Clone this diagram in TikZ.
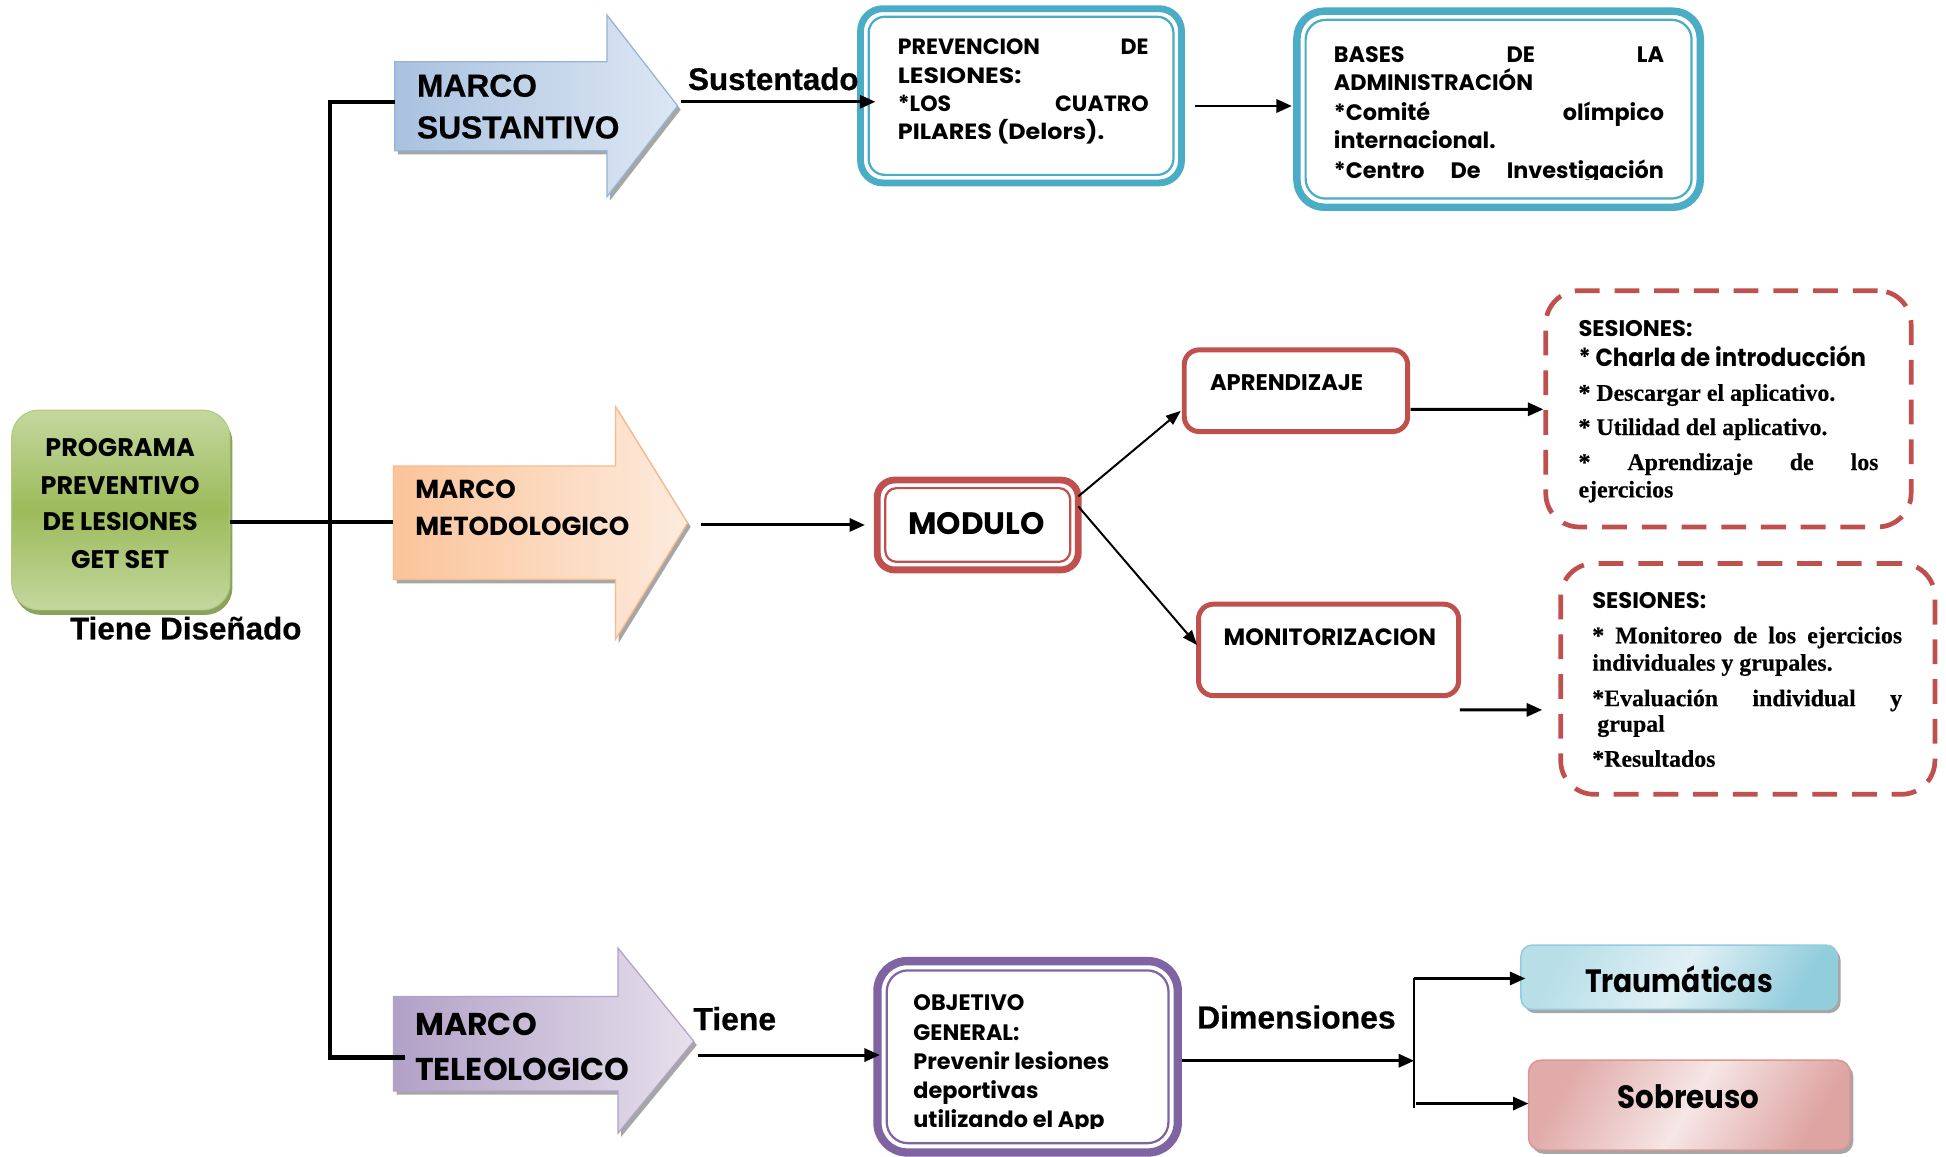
\documentclass[tikz,border=0pt]{standalone}
\usepackage{fontspec}
\usetikzlibrary{arrows.meta,calc,shadows}
\newfontfamily\cgfont{Poppins}
\newfontfamily\arfont{Liberation Sans}[BoldFeatures={FakeBold=0.6}]
\newfontfamily\tnfont{Liberation Serif}[BoldFeatures={FakeBold=0.4}]
\newcommand\fCG[1]{\cgfont\bfseries\fontsize{#1pt}{#1pt}\selectfont}
\newcommand\fAR[1]{\arfont\bfseries\fontsize{#1pt}{#1pt}\selectfont}
\newcommand\fTN[1]{\tnfont\bfseries\fontsize{#1pt}{#1pt}\selectfont}
\newcommand\jline[2]{\makebox[#1pt][l]{#2}}
\newcommand\hsc[2]{\scalebox{#1}[1]{#2}}
\definecolor{cAqua}{HTML}{4BACC6}
\definecolor{cRed}{HTML}{C0504D}
\definecolor{cPurple}{HTML}{8064A2}
\definecolor{cBlueA}{HTML}{A9C2E0}
\definecolor{cBlueB}{HTML}{DDE7F3}
\definecolor{cBlueE}{HTML}{95B3D7}
\definecolor{cOrA}{HTML}{FBC49A}
\definecolor{cOrB}{HTML}{FDEBDD}
\definecolor{cOrE}{HTML}{F9BA8C}
\definecolor{cPuA}{HTML}{B2A1C7}
\definecolor{cPuB}{HTML}{E6E0EC}
\definecolor{cPuE}{HTML}{B3A2C7}
\definecolor{cGrA}{HTML}{C4D79E}
\definecolor{cGrB}{HTML}{9CBB5B}
\definecolor{cGrS}{HTML}{6E8B33}
\definecolor{cTrA}{HTML}{92CDDC}
\definecolor{cTrB}{HTML}{E0F0F5}
\definecolor{cSoA}{HTML}{D99694}
\definecolor{cSoB}{HTML}{F2DCDB}
\begin{document}
\begin{tikzpicture}[x=1pt,y=-1pt,
  tl/.style={inner sep=0pt, outer sep=0pt, anchor=base west},
  tc/.style={inner sep=0pt, outer sep=0pt, anchor=base},
  conn/.style={line width=2.4pt, -{Triangle[length=12.5pt,width=10.5pt]}},
  thinconn/.style={line width=1.6pt, -{Triangle[length=12pt,width=9pt]}},
  trunk/.style={line width=3.5pt, line join=miter},
  bx/.style={rectangle, outer sep=0pt, inner sep=0pt},
  shad/.style={drop shadow={shadow xshift=2.5pt, shadow yshift=-3pt, fill=black, opacity=0.35}},
  bigarrow/.style={line width=1pt, line join=miter, shad},
  dblbox/.style={bx, draw=#1, line width=5.5pt, fill=white},
  innerline/.style={draw=#1, line width=1.8pt},
  redbox/.style={bx, draw=cRed, line width=4pt, rounded corners=12pt, fill=white},
  dashbox/.style={bx, draw=cRed, line width=3.8pt, rounded corners=27pt, dash pattern=on 20pt off 12pt},
]
\useasboundingbox (0,0) rectangle (1568,932);
\clip (0,0) rectangle (1568,932);

% ---------- big arrows ----------
\path[bigarrow, draw=cBlueE, left color=cBlueA, right color=cBlueB]
  (318,49.7) -- (489,49.7) -- (489,12) -- (546,85.3) -- (489,158.6) -- (489,121.4) -- (318,121.4) -- cycle;
\path[bigarrow, draw=cOrE, left color=cOrA, right color=cOrB]
  (317,375.5) -- (496,375.5) -- (496,327.7) -- (554,421.4) -- (496,515) -- (496,467) -- (317,467) -- cycle;
\path[bigarrow, draw=cPuE, left color=cPuA, right color=cPuB]
  (317,803) -- (498,803) -- (498,764) -- (559,839) -- (498,913) -- (498,879) -- (317,879) -- cycle;
\coordinate (msL) at (318,82);
\coordinate (msTip) at (549,82);
\coordinate (mmL) at (317,420.4);
\coordinate (mmTip) at (565,423);
\coordinate (mtL) at (326,852);
\coordinate (mtTip) at (562.6,850.1);
\coordinate (jTop) at (266,82);
\coordinate (jBot) at (266,852);

% ---------- green box ----------
\node[bx, rounded corners=22pt, minimum width=175.9pt, minimum height=161.1pt,
  top color=cGrA, bottom color=cGrA, middle color=cGrB, draw=cGrB!80, line width=0.8pt,
  drop shadow={shadow xshift=2pt, shadow yshift=-4pt, fill=cGrS, opacity=0.8}]
  (prog) at (97.35,410.95) {};

% ---------- boxes ----------
\node[dblbox=cAqua, rounded corners=18pt, minimum width=258.6pt, minimum height=140.4pt] (prev) at (822.7,77.2) {};
\draw[innerline=cAqua, rounded corners=13pt] ($(prev.north west)+(6.5,6.5)$) rectangle ($(prev.south east)+(-6.5,-6.5)$);
\node[dblbox=cAqua, line width=6pt, rounded corners=22pt, minimum width=325pt, minimum height=158pt] (bases) at (1207.5,88) {};
\draw[innerline=cAqua, rounded corners=16pt] ($(bases.north west)+(7,7)$) rectangle ($(bases.south east)+(-7,-7)$);
\node[dblbox=cRed, rounded corners=14pt, minimum width=162pt, minimum height=72.4pt] (modulo) at (787.8,423) {};
\draw[innerline=cRed, rounded corners=9pt] ($(modulo.north west)+(6.5,6.5)$) rectangle ($(modulo.south east)+(-6.5,-6.5)$);
\node[redbox, minimum width=180pt, minimum height=65.8pt] (apr) at (1044.2,314.8) {};
\node[redbox, minimum width=209.6pt, minimum height=73.7pt] (mon) at (1070.5,523.65) {};
\node[dashbox, minimum width=294.4pt, minimum height=190.4pt] (box1) at (1392.7,329.4) {};
\node[dashbox, minimum width=301.5pt, minimum height=186pt] (box2) at (1408.3,547) {};
\node[dblbox=cPurple, line width=6.7pt, rounded corners=24pt, minimum width=242pt, minimum height=154.2pt] (obj) at (828,851.5) {};
\draw[innerline=cPurple, rounded corners=17pt] ($(obj.north west)+(7.5,7.5)$) rectangle ($(obj.south east)+(-7.5,-7.5)$);
\node[bx, rounded corners=9pt, minimum width=255pt, minimum height=51.8pt, draw=cTrA, line width=1.2pt,
  left color=cTrA!65, right color=cTrA, middle color=cTrB, shading angle=60, shad] (trau) at (1353,787.4) {};
\node[bx, rounded corners=10pt, minimum width=259.2pt, minimum height=72.5pt, draw=cSoA, line width=1.2pt,
  left color=cSoA!70!cSoB, right color=cSoA!80!cSoB, middle color=cSoB!70!white, shading angle=60, shad] (sob) at (1361.2,890.5) {};

% ---------- connectors ----------
\draw[trunk] (msL) -- (jTop) -- (jBot) -- (mtL);
\draw[trunk] (prog.east |- mmL) -- (mmL);
\draw[conn] (msTip) -- ($(prev.west |- msTip)+(12,0)$);
\draw[conn] ($(prev.east)+(10.7,8.2)$) -- ($(bases.west)+(-4,-2.6)$);
\draw[conn] (mmTip) -- ($(modulo.west)+(-9.8,0)$);
\draw[thinconn] ($(modulo.east)+(0,-23)$) -- ($(apr.west)+(-2.8,16.2)$);
\draw[thinconn] ($(modulo.east)+(0,-15)$) -- ($(mon.west)+(-1.1,-3.85)$);
\draw[conn] ($(apr.east)+(2.4,15)$) -- ($(box1.west)+(-1.9,0.4)$);
\draw[conn] ($(mon.south east)+(1,11.5)$) -- ($(box2.west)+(-14.9,25)$);
\draw[conn] (mtTip) -- ($(obj.west |- mtTip)+(2,0)$);
\coordinate (dTop) at (1139.5,788.4);
\coordinate (dMid) at (1139.5,854.7);
\coordinate (dBot) at (1139.5,893);
\draw[conn] ($(obj.east)+(3.6,3.2)$) -- (dMid);
\draw[line width=1.5pt] (dTop) -- (dBot);
\draw[conn] (dTop) -- ($(trau.west)+(3.6,1)$);
\draw[conn] ($(dBot)+(1.5,-3.8)$) -- ($(sob.west)+(0,-1.3)$);

% ---------- texts ----------
\node[tl, font=\fAR{25.6}] (ms1) at (336,77.9) {MARCO};
\node[tl, font=\fAR{25.6}] (ms2) at (336,111.5) {SUSTANTIVO};
\node[tl, font=\fCG{21}] (mm1) at (334.6,401.6) {MARCO};
\node[tl, font=\fCG{21}] (mm2) at (334.6,431.1) {METODOLOGICO};
\node[tl, font=\fCG{25.4}] (mt1) at (334.6,834) {MARCO};
\node[tl, font=\fCG{25.4}] (mt2) at (334.6,871) {TELEOLOGICO};

\node[tl, font=\fAR{25.2}] (sust) at (554.5,72.5) {Sustentado};
\node[tl, font=\fAR{25.3}] (tdis) at (56.4,515.2) {Tiene Diseñado};
\node[tl, font=\fAR{25.7}] (tiene) at (558.7,830) {Tiene};
\node[tl, font=\fAR{25.7}] (dimen) at (964.6,828.7) {Dimensiones};

\node[tc, font=\fCG{20.5}] (pg1) at (96.8,368) {PROGRAMA};
\node[tc, font=\fCG{20.5}] (pg2) at (96.8,398.3) {PREVENTIVO};
\node[tc, font=\fCG{20.5}] (pg3) at (96.8,427.6) {DE LESIONES};
\node[tc, font=\fCG{20.5}] (pg4) at (96.8,458) {GET SET};

\node[tl, font=\fCG{17.8}] (pv1) at (723.5,44.3) {\jline{202}{PREVENCION\hfill DE}};
\node[tl, font=\fCG{17.8}] (pv2) at (723.5,67.2) {\hsc{1.14}{LESIONES:}};
\node[tl, font=\fCG{17.8}] (pv3) at (723.5,90) {\jline{202}{*LOS\hfill CUATRO}};
\node[tl, font=\fCG{17.8}] (pv4) at (723.5,112.3) {\hsc{1.08}{PILARES (Delors).}};

\node[tl, font=\fCG{18}] (bs1) at (1074.8,50.5) {\jline{266}{BASES\hfill DE\hfill LA}};
\node[tl, font=\fCG{18}] (bs2) at (1074.8,73) {ADMINISTRACIÓN};
\node[tl, font=\fCG{18}] (bs3) at (1074.8,96.7) {\jline{266}{*Comité\hfill olímpico}};
\node[tl, font=\fCG{18}] (bs4) at (1074.8,119.5) {internacional.};
\begin{scope}
\clip (1060,120) rectangle (1360,144.6);
\node[tl, font=\fCG{18}] (bs5) at (1074.8,143.7) {\jline{266}{*Centro\hfill De\hfill Investigación}};
\end{scope}

\node[tl, font=\fCG{25}] (md) at (732,430.6) {MODULO};
\node[tl, font=\fCG{18.2}] (ap) at (975,314.3) {APRENDIZAJE};
\node[tl, font=\fCG{19}] (mo) at (986,519.8) {MONITORIZACION};

\node[tl, font=\fCG{18.2}] (s1a) at (1271.9,271.3) {SESIONES:};
\node[tl, font=\fCG{20}] (s1b) at (1271.9,295) {\hsc{0.92}{* Charla de introducción}};
\node[tl, font=\fTN{19.2}] (s1c) at (1271.9,322.9) {* Descargar el aplicativo.};
\node[tl, font=\fTN{19.2}] (s1d) at (1271.9,350.5) {* Utilidad del aplicativo.};
\node[tl, font=\fTN{19.2}] (s1e) at (1271.9,378.7) {\jline{241.7}{*\hfill Aprendizaje\hfill de\hfill los}};
\node[tl, font=\fTN{19.2}] (s1f) at (1271.9,400.8) {ejercicios};

\node[tl, font=\fCG{18.2}] (s2a) at (1283,490) {SESIONES:};
\node[tl, font=\fTN{19.2}] (s2b) at (1283,518.3) {\jline{249.6}{*\hfill Monitoreo\hfill de\hfill los\hfill ejercicios}};
\node[tl, font=\fTN{19.2}] (s2c) at (1283,540.4) {individuales y grupales.};
\node[tl, font=\fTN{19.2}] (s2d) at (1283,569) {\jline{249.6}{*Evaluación\hfill individual\hfill y}};
\node[tl, font=\fTN{19.2}] (s2e) at (1287,589.6) {grupal};
\node[tl, font=\fTN{19.2}] (s2f) at (1283,617.8) {*Resultados};

\node[tl, font=\fCG{18}] (ob1) at (736,814.4) {OBJETIVO};
\node[tl, font=\fCG{18}] (ob2) at (736,838) {GENERAL:};
\node[tl, font=\fCG{18}] (ob3) at (736,862) {Prevenir lesiones};
\node[tl, font=\fCG{18}] (ob4) at (736,885) {deportivas};
\begin{scope}
\clip (720,890) rectangle (940,909.6);
\node[tl, font=\fCG{18}] (ob5) at (736,908.4) {utilizando el App};
\end{scope}

\node[tc, font=\fCG{26}] (tr) at (1352.8,799.6) {\hsc{0.875}{Traumáticas}};
\node[tc, font=\fCG{26}] (sb) at (1360.5,893.2) {\hsc{0.91}{Sobreuso}};
\end{tikzpicture}
\end{document}
